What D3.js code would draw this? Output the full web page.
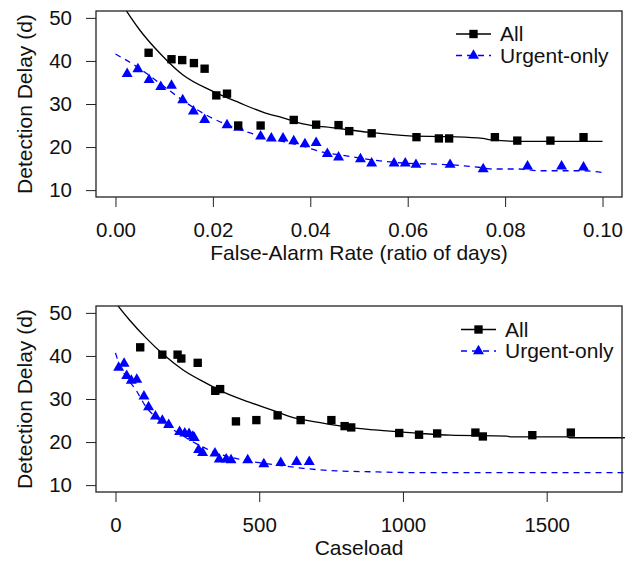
<!DOCTYPE html>
<html>
<head>
<meta charset="utf-8">
<script src="https://cdn.jsdelivr.net/npm/d3@7"></script>
<style>
  body { margin: 0; background: #fff; }
  svg { font-family: "Liberation Sans", Arial, Helvetica, sans-serif; }
</style>
</head>
<body>
<svg id="chart" width="634" height="563"></svg>
<script>
// ---- panel 1: delay vs false-alarm rate ----
var farAllRate = [0.0068, 0.0115, 0.0137, 0.0161, 0.0183, 0.0207, 0.0229, 0.0252, 0.0298, 0.0366, 0.0412,
  0.0458, 0.0480, 0.0526, 0.0618, 0.0664, 0.0685, 0.0779, 0.0825, 0.0893, 0.0961];
var farAllDelay = [41.9, 40.4, 40.2, 39.5, 38.2, 32.0, 32.4, 25.0, 25.0, 26.3, 25.2,
  25.1, 23.7, 23.2, 22.3, 22.0, 22.0, 22.3, 21.5, 21.5, 22.3];

var farUrgRate = [0.0024, 0.0046, 0.0069, 0.0093, 0.0115, 0.0138, 0.0160, 0.0183, 0.0229, 0.0253, 0.0298,
  0.0320, 0.0344, 0.0366, 0.0389, 0.0412, 0.0435, 0.0458, 0.0503, 0.0526, 0.0572, 0.0595, 0.0617,
  0.0687, 0.0755, 0.0846, 0.0916, 0.0961];
var farUrgDelay = [37.0, 38.1, 35.6, 34.0, 34.3, 30.9, 28.3, 26.3, 25.1, 24.5, 22.5,
  22.0, 22.0, 21.4, 20.7, 21.0, 18.4, 17.6, 17.2, 16.2, 16.2, 16.2, 15.9,
  15.9, 14.9, 15.5, 15.5, 15.3];

// fitted curves
var farAllFitX = [0, 0.0022, 0.0049, 0.0097, 0.0138, 0.0199, 0.0254, 0.0308, 0.0344, 0.0385, 0.0453,
  0.0522, 0.0603, 0.0686, 0.0754, 0.0775, 0.0843, 0.1];
var farAllFitY = [55.6, 51.7, 47.3, 41.1, 36.8, 33.0, 30.3, 27.9, 26.8, 25.4, 24.4,
  23.4, 22.6, 22.4, 22.0, 21.6, 21.3, 21.3];
var farUrgFitX = [0, 0.0042, 0.0097, 0.0145, 0.0192, 0.0247, 0.0329, 0.0385, 0.0426, 0.0467, 0.0522,
  0.0590, 0.0686, 0.0754, 0.0775, 0.0829, 0.087, 0.0959, 0.1];
var farUrgFitY = [41.6, 38.8, 34.3, 30.3, 27.1, 24.4, 21.7, 20.2, 18.8, 18.1, 17.1,
  16.3, 15.9, 15.2, 14.9, 14.9, 14.5, 14.5, 14.1];

// ---- panel 2: delay vs caseload ----
var caseAllLoad = [86, 163, 216, 229, 286, 347, 364, 419, 490, 564, 644, 751, 797, 820, 987, 1056, 1119,
  1252, 1278, 1450, 1584];
var caseAllDelay = [42.0, 40.3, 40.3, 39.4, 38.4, 31.9, 32.3, 24.8, 25.1, 26.2, 25.1, 25.1, 23.7, 23.4, 22.1, 21.7, 22.0,
  22.2, 21.3, 21.6, 22.2];

var caseUrgLoad = [11, 30, 39, 55, 74, 99, 115, 139, 163, 185, 223, 241, 256, 269, 274, 289, 303, 346, 361,
  385, 402, 460, 516, 575, 630, 674];
var caseUrgDelay = [37.3, 38.2, 35.4, 34.3, 34.5, 30.6, 28.1, 26.0, 25.0, 24.0, 22.4, 22.0, 21.9, 21.3, 21.0, 18.2, 17.5, 17.4, 16.0,
  16.0, 15.8, 15.8, 14.9, 15.2, 15.4, 15.4];

var caseAllFitX = [0, 8, 48, 106, 164, 234, 315, 396, 477, 558, 607, 712, 827, 944, 1060, 1164, 1361, 1373, 1570, 1581, 1772];
var caseAllFitY = [52.4, 51.7, 48.4, 44.2, 40.5, 36.8, 33.7, 31.0, 29.0, 27.1, 25.9, 24.5, 23.3, 22.6, 22.0, 21.6, 21.4, 21.2, 21.2, 21.0, 21.0];
var caseUrgFitX = [0, 13, 37, 71, 106, 152, 222, 279, 338, 419, 512, 558, 653, 770, 886, 1048, 1772];
var caseUrgFitY = [40.7, 38.0, 35.2, 32.1, 28.2, 25.1, 22.0, 19.7, 17.8, 16.2, 15.1, 14.7, 13.9, 13.3, 13.1, 12.9, 12.9];

var delayTicks = [10, 20, 30, 40, 50];
var rateTicks = [0, 0.02, 0.04, 0.06, 0.08, 0.10];
var caseTicks = [0, 500, 1000, 1500];
var seriesNames = ["All", "Urgent-only"];

var svg = d3.select("#chart");
var blue = "#0000ff";
var zip = (xs, ys) => xs.map((x, i) => [x, ys[i]]);

function drawPanel(p) {
  var left = 96, right = 622;
  var x = d3.scaleLinear().domain(p.xDomain).range([left, right]);
  var y = d3.scaleLinear().domain([8.4, 51.6]).range([p.bottom, p.top]);
  var g = svg.append("g");

  var clipId = "clip" + p.id;
  svg.append("clipPath").attr("id", clipId)
    .append("rect").attr("x", left).attr("y", p.top)
    .attr("width", right - left + 4).attr("height", p.bottom - p.top);

  // axes (R style ticks, no domain line)
  var xa = g.append("g").attr("transform", `translate(0,${p.bottom})`)
    .call(d3.axisBottom(x).tickValues(p.xTicks).tickFormat(p.xFormat).tickSize(10));
  xa.select(".domain").remove();
  xa.selectAll("text").attr("y", 40).attr("dy", null).style("font-size", "20.5px").attr("fill", "#111");
  xa.selectAll("line").attr("stroke", "#222");

  var ya = g.append("g").attr("transform", `translate(${left},0)`)
    .call(d3.axisLeft(y).tickValues(delayTicks).tickSize(10).tickPadding(14));
  ya.select(".domain").remove();
  ya.selectAll("text").style("font-size", "20.5px").attr("fill", "#111");
  ya.selectAll("line").attr("stroke", "#222");

  g.append("text")
    .attr("x", (left + right) / 2).attr("y", p.bottom + 63)
    .attr("text-anchor", "middle").style("font-size", "21px").attr("fill", "#111")
    .text(p.xTitle);

  g.append("text")
    .attr("transform", `translate(32,${(p.top + p.bottom) / 2}) rotate(-90)`)
    .attr("text-anchor", "middle").style("font-size", "21px").attr("fill", "#111")
    .text("Detection Delay (d)");

  var line = d3.line().x(d => x(d[0])).y(d => y(d[1])).curve(d3.curveMonotoneX);
  var plot = g.append("g").attr("clip-path", `url(#${clipId})`);

  plot.append("path").datum(zip(p.allFitX, p.allFitY))
    .attr("d", line).attr("fill", "none").attr("stroke", "#000").attr("stroke-width", 1.3);
  plot.append("path").datum(zip(p.urgFitX, p.urgFitY))
    .attr("d", line).attr("fill", "none").attr("stroke", blue).attr("stroke-width", 1.3)
    .attr("stroke-dasharray", "6,5");

  var sq = d3.symbol().type(d3.symbolSquare).size(70);
  var tri = d3.symbol().type(d3.symbolTriangle).size(52);

  plot.selectAll(".urg").data(zip(p.urgX, p.urgY)).enter().append("path")
    .attr("transform", d => `translate(${x(d[0])},${y(d[1])})`)
    .attr("d", tri).attr("fill", blue);
  plot.selectAll(".all").data(zip(p.allX, p.allY)).enter().append("path")
    .attr("transform", d => `translate(${x(d[0])},${y(d[1])})`)
    .attr("d", sq).attr("fill", "#000");

  // box
  g.append("rect").attr("x", left).attr("y", p.top)
    .attr("width", right - left).attr("height", p.bottom - p.top)
    .attr("fill", "none").attr("stroke", "#222").attr("stroke-width", 1.3);

  // legend
  var lg = g.append("g").attr("transform", `translate(${p.legX},${p.legY})`);
  seriesNames.forEach((name, i) => {
    var ly = i * 21.5;
    var col = i === 0 ? "#000" : blue;
    lg.append("line").attr("x1", 0).attr("x2", 35).attr("y1", ly).attr("y2", ly)
      .attr("stroke", col).attr("stroke-width", 1.3)
      .attr("stroke-dasharray", i === 0 ? null : "6,5");
    lg.append("path").attr("transform", `translate(17.5,${ly})`)
      .attr("d", i === 0 ? sq : tri).attr("fill", col);
    lg.append("text").attr("x", 44).attr("y", ly).attr("dy", "0.35em")
      .style("font-size", "21px").attr("fill", "#111").text(name);
  });
}

drawPanel({
  id: 1, top: 11, bottom: 197,
  xDomain: [-0.004, 0.104], xTicks: rateTicks, xFormat: d3.format(".2f"),
  xTitle: "False-Alarm Rate (ratio of days)",
  allX: farAllRate, allY: farAllDelay, urgX: farUrgRate, urgY: farUrgDelay,
  allFitX: farAllFitX, allFitY: farAllFitY, urgFitX: farUrgFitX, urgFitY: farUrgFitY,
  legX: 456, legY: 34
});

drawPanel({
  id: 2, top: 306, bottom: 492,
  xDomain: [-67.8, 1762], xTicks: caseTicks, xFormat: d3.format("d"),
  xTitle: "Caseload",
  allX: caseAllLoad, allY: caseAllDelay, urgX: caseUrgLoad, urgY: caseUrgDelay,
  allFitX: caseAllFitX, allFitY: caseAllFitY, urgFitX: caseUrgFitX, urgFitY: caseUrgFitY,
  legX: 461, legY: 329.5
});
</script>
</body>
</html>
